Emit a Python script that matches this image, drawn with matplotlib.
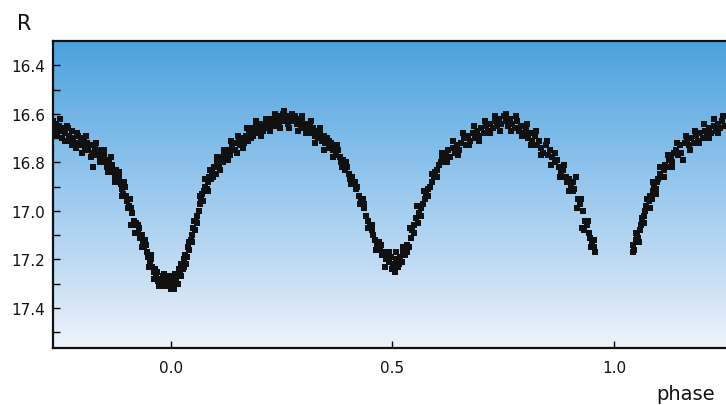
import numpy as np
import matplotlib
matplotlib.use("Agg")
import matplotlib.pyplot as plt
from matplotlib.colors import LinearSegmentedColormap

# ---- data ----
phase = [
    -0.265,-0.262,-0.259,-0.256,-0.252,-0.249,-0.245,-0.242,-0.238,-0.235,
    -0.231,-0.228,-0.224,-0.221,-0.217,-0.214,-0.210,-0.207,-0.203,-0.200,
    -0.196,-0.193,-0.189,-0.186,-0.182,-0.179,-0.175,-0.172,-0.168,-0.165,
    -0.161,-0.158,-0.154,-0.151,-0.147,-0.144,-0.140,-0.137,-0.133,-0.130,
    -0.127,-0.123,-0.120,-0.117,-0.113,-0.110,-0.107,-0.104,-0.101,-0.098,
    -0.095,-0.092,-0.090,-0.087,-0.084,-0.081,-0.078,-0.075,-0.072,-0.069,
    -0.066,-0.063,-0.060,-0.057,-0.054,-0.051,-0.048,-0.045,-0.042,-0.039,
    -0.036,-0.033,-0.030,-0.027,-0.024,-0.021,-0.018,-0.015,-0.012,-0.009,
    -0.006,-0.003, 0.000, 0.003, 0.006, 0.009, 0.012, 0.015, 0.018, 0.021,
    0.024, 0.027, 0.030, 0.033, 0.036, 0.039, 0.042, 0.045, 0.048, 0.051,
    0.054, 0.057, 0.060, 0.063, 0.066, 0.069, 0.072, 0.075, 0.078, 0.081,
    0.084, 0.087, 0.090, 0.093, 0.097, 0.101, 0.105, 0.109, 0.113, 0.117,
    0.121, 0.125, 0.129, 0.133, 0.137, 0.141, 0.145, 0.149, 0.153, 0.157,
    0.161, 0.165, 0.169, 0.173, 0.177, 0.181, 0.185, 0.189, 0.193, 0.197,
    0.201, 0.205, 0.209, 0.213, 0.217, 0.221, 0.225, 0.229, 0.233, 0.237,
    0.241, 0.245, 0.249, 0.253, 0.257, 0.261, 0.265, 0.269, 0.273, 0.277,
    0.281, 0.285, 0.289, 0.293, 0.297, 0.301, 0.305, 0.309, 0.313, 0.317,
    0.321, 0.325, 0.329, 0.333, 0.337, 0.341, 0.345, 0.349, 0.353, 0.357,
    0.361, 0.365, 0.369, 0.373, 0.377, 0.381, 0.385, 0.389, 0.393, 0.397,
    0.401, 0.405, 0.409, 0.413, 0.417, 0.421, 0.425, 0.429, 0.433, 0.437,
    0.441, 0.445, 0.449, 0.453, 0.457, 0.461, 0.465, 0.469, 0.473, 0.477,
    0.481, 0.485, 0.489, 0.493, 0.497, 0.501, 0.505, 0.509, 0.513, 0.517,
    0.521, 0.525, 0.529, 0.533, 0.537, 0.541, 0.545, 0.549, 0.553, 0.557,
    0.561, 0.565, 0.569, 0.573, 0.577, 0.581, 0.585, 0.589, 0.593, 0.597,
    0.601, 0.605, 0.609, 0.613, 0.617, 0.621, 0.626, 0.631, 0.636, 0.641,
    0.646, 0.651, 0.656, 0.661, 0.666, 0.671, 0.676, 0.681, 0.686, 0.691,
    0.696, 0.701, 0.706, 0.711, 0.716, 0.721, 0.726, 0.731, 0.736, 0.741,
    0.746, 0.751, 0.756, 0.761, 0.766, 0.771, 0.776, 0.781, 0.786, 0.791,
    0.796, 0.801, 0.806, 0.811, 0.816, 0.821, 0.826, 0.831, 0.836, 0.841,
    0.846, 0.851, 0.856, 0.861, 0.866, 0.871, 0.876, 0.881, 0.886, 0.891,
    0.895, 0.899, 0.903, 0.907, 0.911, 0.915, 0.919, 0.923, 0.927, 0.931,
    0.935, 0.939, 0.943, 0.947, 0.951, 0.955, 0.958,
    1.043, 1.046, 1.049, 1.052, 1.055, 1.058, 1.061, 1.064, 1.067, 1.070,
    1.073, 1.076, 1.079, 1.082, 1.085, 1.088, 1.091, 1.094, 1.097, 1.100,
    1.104, 1.108, 1.112, 1.116, 1.120, 1.124, 1.128, 1.132, 1.136, 1.140,
    1.145, 1.150, 1.155, 1.160, 1.165, 1.170, 1.175, 1.180, 1.185, 1.190,
    1.195, 1.200, 1.205, 1.210, 1.215, 1.220, 1.225, 1.230, 1.235, 1.240,
    1.245, 1.250,
]
mag = [
    16.63, 16.66, 16.64, 16.68, 16.65, 16.67, 16.70, 16.66, 16.68, 16.65,
    16.69, 16.71, 16.67, 16.70, 16.72, 16.74, 16.69, 16.72, 16.71, 16.73,
    16.70, 16.74, 16.72, 16.75, 16.73, 16.76, 16.82, 16.74, 16.77, 16.75,
    16.78, 16.76, 16.79, 16.77, 16.80, 16.82, 16.79, 16.83, 16.81, 16.84,
    16.86, 16.83, 16.88, 16.86, 16.89, 16.91, 16.93, 16.90, 16.94, 16.96,
    16.98, 16.95, 17.06, 17.01, 17.04, 17.06, 17.05, 17.09, 17.07, 17.11,
    17.10, 17.13, 17.15, 17.14, 17.17, 17.19, 17.21, 17.20, 17.23, 17.25,
    17.24, 17.27, 17.29, 17.31, 17.28, 17.30, 17.27, 17.31, 17.29, 17.28,
    17.30, 17.27, 17.32, 17.28, 17.30, 17.26, 17.29, 17.27, 17.24, 17.26,
    17.22, 17.24, 17.20, 17.18, 17.19, 17.15, 17.16, 17.12, 17.10, 17.07,
    17.08, 17.04, 17.02, 17.00, 16.97, 16.95, 16.96, 16.92, 16.90, 16.91,
    16.88, 16.86, 16.87, 16.84, 16.82, 16.85, 16.80, 16.82, 16.78, 16.80,
    16.77, 16.79, 16.75, 16.77, 16.73, 16.75, 16.72, 16.76, 16.71, 16.73,
    16.70, 16.72, 16.69, 16.71, 16.68, 16.66, 16.69, 16.67, 16.65, 16.68,
    16.66, 16.64, 16.67, 16.65, 16.63, 16.66, 16.64, 16.62, 16.65, 16.63,
    16.61, 16.64, 16.62, 16.60, 16.63, 16.61, 16.64, 16.62, 16.60, 16.63,
    16.61, 16.64, 16.62, 16.65, 16.63, 16.66, 16.64, 16.67, 16.65, 16.68,
    16.66, 16.69, 16.67, 16.70, 16.68, 16.71, 16.69, 16.72, 16.70, 16.74,
    16.72, 16.75, 16.73, 16.77, 16.75, 16.78, 16.80, 16.79, 16.83, 16.82,
    16.85, 16.87, 16.86, 16.89, 16.91, 16.90, 16.94, 16.96, 16.95, 16.99,
    17.02, 17.04, 17.06, 17.08, 17.10, 17.12, 17.14, 17.13, 17.16, 17.18,
    17.17, 17.20, 17.18, 17.21, 17.19, 17.22, 17.25, 17.20, 17.23, 17.19,
    17.21, 17.17, 17.18, 17.14, 17.15, 17.11, 17.08, 17.06, 17.03, 17.05,
    17.01, 16.99, 16.97, 16.95, 16.93, 16.91, 16.90, 16.88, 16.86, 16.84,
    16.83, 16.81, 16.80, 16.78, 16.79, 16.77, 16.75, 16.78, 16.74, 16.76,
    16.73, 16.75, 16.72, 16.70, 16.73, 16.69, 16.71, 16.68, 16.70, 16.67,
    16.69, 16.66, 16.68, 16.65, 16.67, 16.64, 16.66, 16.63, 16.65, 16.62,
    16.64, 16.61, 16.63, 16.65, 16.62, 16.64, 16.66, 16.63, 16.67, 16.65,
    16.68, 16.66, 16.70, 16.68, 16.71, 16.69, 16.73, 16.71, 16.74, 16.76,
    16.73, 16.77, 16.75, 16.78, 16.80, 16.79, 16.82, 16.84, 16.83, 16.86,
    16.88, 16.87, 16.90, 16.92, 16.91, 16.86, 16.95, 16.97, 17.07, 17.00,
    17.04, 17.06, 17.09, 17.11, 17.13, 17.15, 17.17,
    17.14, 17.16, 17.12, 17.10, 17.11, 17.08, 17.06, 17.04, 17.02, 17.00,
    16.98, 16.99, 16.96, 16.94, 16.95, 16.92, 16.90, 16.91, 16.88, 16.87,
    16.85, 16.86, 16.83, 16.81, 16.82, 16.79, 16.78, 16.80, 16.76, 16.75,
    16.77, 16.73, 16.79, 16.72, 16.71, 16.73, 16.70, 16.72, 16.69, 16.71,
    16.68, 16.70, 16.67, 16.69, 16.66, 16.68, 16.65, 16.67, 16.64, 16.66,
    16.63, 16.65,
]

# second set of measurements (wider scatter)
phase2 = [
    -0.260,-0.250,-0.240,-0.232,-0.222,-0.212,-0.201,-0.191,-0.180,-0.170,
    -0.160,-0.150,-0.142,-0.135,-0.125,-0.118,-0.111,-0.105,-0.097,-0.089,
    -0.080,-0.074,-0.065,-0.058,-0.050,-0.044,-0.037,-0.031,-0.025,-0.016,
    -0.008, 0.001, 0.008, 0.016, 0.023, 0.029, 0.035, 0.041, 0.047, 0.053,
    0.059, 0.065, 0.071, 0.077, 0.083, 0.089, 0.096, 0.104, 0.112, 0.120,
    0.128, 0.136, 0.144, 0.152, 0.162, 0.172, 0.182, 0.192, 0.203, 0.214,
    0.224, 0.235, 0.246, 0.256, 0.266, 0.276, 0.287, 0.296, 0.306, 0.316,
    0.326, 0.336, 0.346, 0.356, 0.366, 0.376, 0.386, 0.396, 0.406, 0.416,
    0.426, 0.436, 0.446, 0.455, 0.464, 0.474, 0.484, 0.492, 0.500, 0.508,
    0.516, 0.524, 0.532, 0.540, 0.548, 0.556, 0.564, 0.572, 0.580, 0.590,
    0.600, 0.612, 0.624, 0.636, 0.648, 0.660, 0.672, 0.684, 0.696, 0.708,
    0.720, 0.732, 0.744, 0.756, 0.768, 0.780, 0.792, 0.803, 0.814, 0.825,
    0.836, 0.848, 0.858, 0.868, 0.878, 0.888, 0.898, 0.908, 0.917, 0.925,
    0.933, 0.941, 0.949, 0.956,
    1.044, 1.050, 1.057, 1.063, 1.069, 1.075, 1.081, 1.089, 1.096, 1.104,
    1.113, 1.122, 1.131, 1.142, 1.152, 1.162, 1.172, 1.183, 1.193, 1.204,
    1.214, 1.225, 1.236, 1.246,
]
mag2 = [
    16.69, 16.62, 16.71, 16.66, 16.73, 16.68, 16.76, 16.69, 16.78, 16.72,
    16.80, 16.75, 16.84, 16.78, 16.88, 16.84, 16.94, 16.88, 16.99, 16.99,
    17.09, 17.06, 17.15, 17.12, 17.23, 17.18, 17.28, 17.25, 17.31, 17.26,
    17.31, 17.29, 17.32, 17.30, 17.27, 17.23, 17.22, 17.13, 17.13, 17.04,
    17.05, 16.94, 16.93, 16.87, 16.92, 16.83, 16.86, 16.78, 16.83, 16.75,
    16.79, 16.71, 16.75, 16.69, 16.74, 16.66, 16.70, 16.63, 16.69, 16.62,
    16.67, 16.60, 16.66, 16.59, 16.66, 16.62, 16.67, 16.61, 16.68, 16.63,
    16.72, 16.66, 16.75, 16.71, 16.78, 16.73, 16.82, 16.80, 16.89, 16.88,
    16.97, 16.97, 17.07, 17.06, 17.16, 17.14, 17.23, 17.17, 17.24, 17.17,
    17.22, 17.15, 17.17, 17.07, 17.09, 16.98, 17.02, 16.92, 16.94, 16.85,
    16.86, 16.76, 16.80, 16.71, 16.77, 16.68, 16.73, 16.65, 16.71, 16.63,
    16.68, 16.61, 16.67, 16.60, 16.67, 16.61, 16.69, 16.64, 16.73, 16.67,
    16.77, 16.71, 16.81, 16.76, 16.86, 16.81, 16.92, 16.88, 16.99, 16.95,
    17.08, 17.04, 17.15, 17.12,
    17.17, 17.09, 17.13, 17.03, 17.05, 16.95, 16.99, 16.88, 16.93, 16.82,
    16.86, 16.77, 16.82, 16.72, 16.76, 16.69, 16.75, 16.67, 16.72, 16.64,
    16.70, 16.62, 16.68, 16.61,
]

x_ticks = [0.0, 0.5, 1.0]
x_tick_labels = ["0.0", "0.5", "1.0"]
y_ticks = [16.4, 16.6, 16.8, 17.0, 17.2, 17.4]
y_tick_labels = ["16.4", "16.6", "16.8", "17.0", "17.2", "17.4"]

# ---- figure ----
W, H = 726, 406
fig = plt.figure(figsize=(W / 100, H / 100), dpi=100)
ax = fig.add_axes([53 / W, 1 - 349 / H, 1 - 53 / W, (349 - 42) / H])

xlim = (-0.266, 1.253)
ylim = (17.565, 16.30)

# vertical gradient background
cmap = LinearSegmentedColormap.from_list(
    "sky", [(0.0, "#4aa3dc"), (0.45, "#94c6ee"), (0.75, "#c4ddf4"), (1.0, "#eef4fb")]
)
grad = np.linspace(0, 1, 256).reshape(-1, 1)
ax.imshow(grad, aspect="auto", cmap=cmap,
          extent=[xlim[0], xlim[1], ylim[0], ylim[1]], origin="upper", zorder=0)

for px, py in ((phase, mag), (phase2, mag2)):
    ax.plot(px, py, linestyle="none", marker="s", markersize=4.0,
            color="#111111", markeredgewidth=0, zorder=3)

ax.set_xlim(*xlim)
ax.set_ylim(*ylim)

ax.set_xticks(x_ticks)
ax.set_xticklabels(x_tick_labels)
ax.set_yticks(y_ticks)
ax.set_yticklabels(y_tick_labels)
ax.set_yticks(np.arange(16.5, 17.6, 0.2), minor=True)

ax.tick_params(axis="both", which="both", direction="in", color="black",
               labelsize=11, labelcolor="#111111")
ax.tick_params(axis="y", which="major", length=5, width=1, pad=5.5)
ax.tick_params(axis="y", which="minor", length=5, width=1)
ax.tick_params(axis="x", which="major", length=5, width=1, pad=8.5)
ax.tick_params(top=False, right=False)

for s in ["left", "bottom", "top"]:
    ax.spines[s].set_linewidth(1.6)
    ax.spines[s].set_color("#111111")
ax.spines["right"].set_visible(False)

fig.text(24 / W, 1 - 30 / H, "R", fontsize=15, ha="center", va="baseline",
         color="#111111")
fig.text(686 / W, 1 - 400 / H, "phase", fontsize=14, ha="center", va="baseline",
         color="#111111")

fig.savefig("out.png", dpi=100)
